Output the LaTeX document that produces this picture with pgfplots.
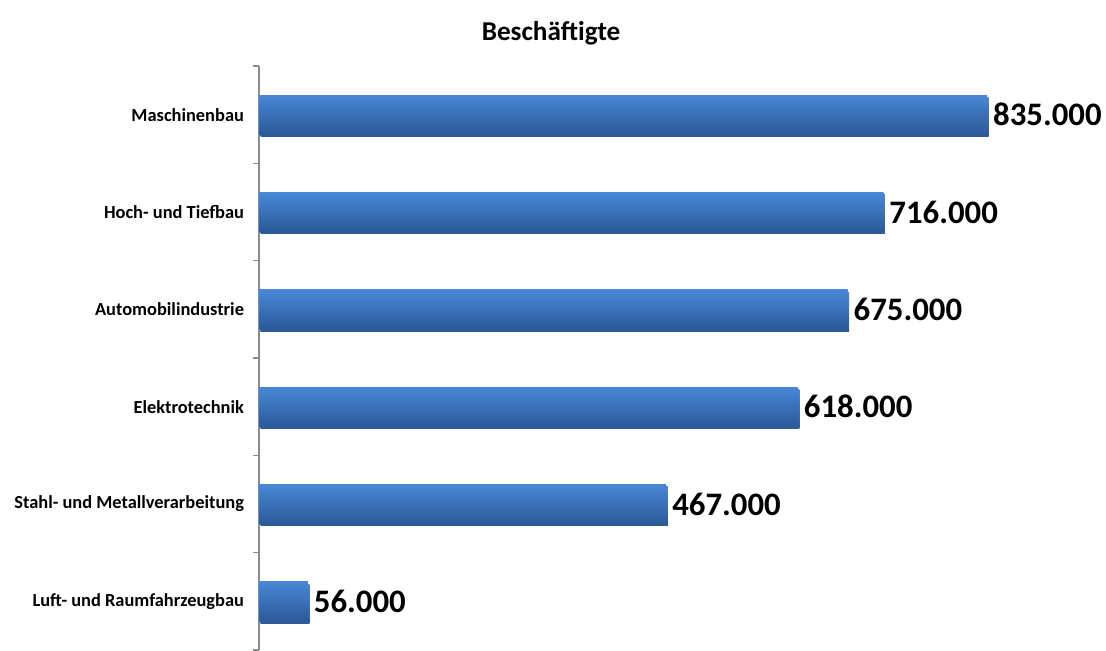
\documentclass[border=0pt]{standalone}
\usepackage{pgfplots}
\pgfplotsset{compat=1.18}
\usepackage{fontspec}
\setmainfont{Carlito}
\definecolor{barTop}{HTML}{4887D6}
\definecolor{barMid}{HTML}{3A73C0}
\definecolor{barBot}{HTML}{2C5A9A}
\definecolor{axisGray}{HTML}{8C8C8C}

\pgfplotsset{
    balken/.style={draw=none, bar shift=0pt, top color=barTop, middle color=barMid, bottom color=barBot,
        preaction={fill=black!18, transform canvas={shift={(0.8pt,-1.2pt)}}}},
}

\begin{document}
\begin{tikzpicture}
\path[use as bounding box] (0,0) rectangle (553pt,325.5pt);
\node[font=\bfseries\fontsize{13.6}{16}\selectfont] at (275.5pt,309pt) {Beschäftigte};
\begin{axis}[
    at={(129.5pt,0.5pt)}, anchor=south west,
    scale only axis,
    width=415.5pt,
    height=292pt,
    xbar,
    bar width=19.5pt,
    xmin=0, xmax=953000,
    ymin=-0.5, ymax=5.5,
    axis x line=none,
    axis y line*=left,
    y axis line style={axisGray, line width=0.8pt},
    ytick={0,...,5},
    yticklabels={Luft- und Raumfahrzeugbau, Stahl- und Metallverarbeitung, Elektrotechnik, Automobilindustrie, Hoch- und Tiefbau, Maschinenbau},
    y tick label style={font=\bfseries\fontsize{9.2}{11}\selectfont, xshift=-4pt},
    major tick length=0pt,
    minor ytick={-0.5,0.5,...,5.5},
    minor tick length=3pt,
    tick align=outside,
    minor tick style={axisGray, line width=0.6pt},
    clip=false,
    nodes near coords,
    nodes near coords align={horizontal},
    every node near coord/.append style={font=\bfseries\fontsize{16.4}{19}\selectfont, xshift=-0.5pt,
        /pgf/number format/.cd, fixed, precision=0, 1000 sep={.}, assume math mode=true},
]
\addplot[balken] coordinates {(56000,0)};
\addplot[balken] coordinates {(467000,1)};
\addplot[balken] coordinates {(618000,2)};
\addplot[balken] coordinates {(675000,3)};
\addplot[balken] coordinates {(716000,4)};
\addplot[balken] coordinates {(835000,5)};
\end{axis}
\end{tikzpicture}
\end{document}
